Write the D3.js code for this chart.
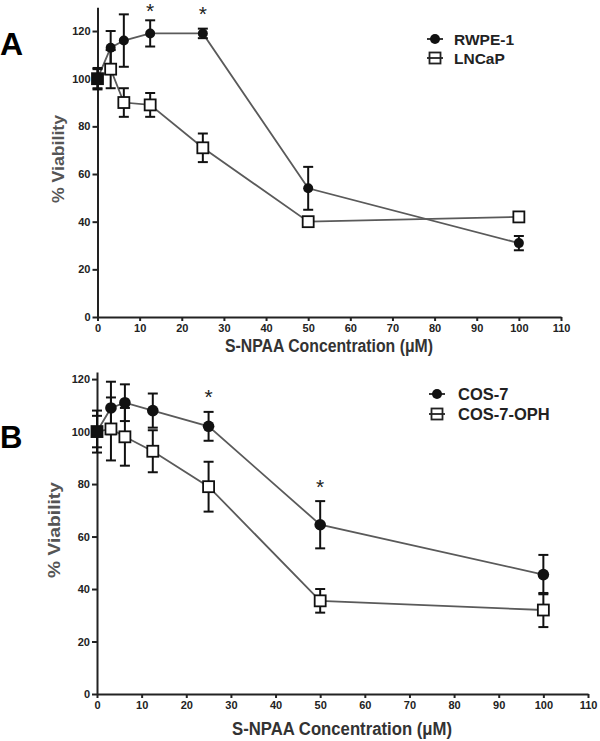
<!DOCTYPE html>
<html>
<head>
<meta charset="utf-8">
<style>
    body { margin: 0; background: #fff; }
    svg { display: block; font-family: 'Liberation Sans', Arial, sans-serif; }
    .axis .domain { stroke: #222; stroke-width: 2px; }
    .axis .tick line { stroke: #222; stroke-width: 2px; }
    .axis .tick text { font-size: 11px; font-weight: bold; fill: #222; }
</style>
</head>
<body>
<svg width="600" height="741"></svg>

<script src="https://d3js.org/d3.v7.min.js"></script>
<script>
    // concentrations (uM)
    let conc = [0, 3.125, 6.25, 12.5, 25, 50, 100];

    // panel A
    let rwpeMean = [100, 113, 116, 119, 119, 54, 31];
    let rwpeErr = [4.5, 7, 11, 5.5, 2, 9, 3];
    let lncapMean = [100, 104, 90, 89, 71, 40, 42];
    let lncapErr = [4, 8, 6, 5, 6, 1, 2];
    let starsAx = [12.5, 25];
    let starsAy = [130.5, 129.3];

    // panel B
    let cosMean = [100, 109, 111, 108, 102, 64.5, 45.5];
    let cosErr = [8, 10, 7, 6.5, 5.5, 9, 7.5];
    let ophMean = [100, 101, 98, 92.5, 79, 35.5, 32];
    let ophErr = [6, 12, 11, 8, 9.5, 4.5, 6.5];
    let starsBx = [25, 50];
    let starsBy = [115, 80.8];

    let xTicks = d3.range(0, 111, 10);
    let yTicks = [0, 20, 40, 60, 80, 100, 120];

    let svg = d3.select("svg");

    function panel(opt) {
        let g = svg.append("g");

        let x = d3.scaleLinear().domain([0, 110]).range(opt.xr);
        let y = d3.scaleLinear().domain([0, opt.ymax]).range(opt.yr);

        g.append("g")
            .attr("class", "axis")
            .attr("transform", `translate(0,${opt.yr[0]})`)
            .call(d3.axisBottom(x).tickValues(xTicks).tickSize(4).tickSizeOuter(0).tickPadding(3));

        g.append("g")
            .attr("class", "axis")
            .attr("transform", `translate(${opt.xr[0]},0)`)
            .call(d3.axisLeft(y).tickValues(yTicks).tickSize(5).tickSizeOuter(0).tickPadding(2));

        let line = d3.line()
            .x(d => x(d.c))
            .y(d => y(d.m));

        // series: [filled circle, open square]
        let series = opt.series.map(s => conc.map((c, i) => ({ c: c, m: s.mean[i], e: s.err[i] })));

        series.forEach(s => {
            g.append("path")
                .attr("d", line(s))
                .style("fill", "none")
                .style("stroke", "#5a5a5a")
                .style("stroke-width", "1.8px")
        });

        series.forEach(s => {
            let eb = g.append("g").selectAll("g").data(s).join("g");
            eb.append("line")
                .attr("x1", d => x(d.c)).attr("x2", d => x(d.c))
                .attr("y1", d => y(d.m - d.e)).attr("y2", d => y(d.m + d.e));
            eb.append("line")
                .attr("x1", d => x(d.c) - 5).attr("x2", d => x(d.c) + 5)
                .attr("y1", d => y(d.m + d.e)).attr("y2", d => y(d.m + d.e));
            eb.append("line")
                .attr("x1", d => x(d.c) - 5).attr("x2", d => x(d.c) + 5)
                .attr("y1", d => y(d.m - d.e)).attr("y2", d => y(d.m - d.e));
            eb.selectAll("line").style("stroke", "#111").style("stroke-width", "2px");
        });

        let sq = opt.sq;
        g.append("g").selectAll("rect")
            .data(series[1])
            .join("rect")
            .attr("x", d => x(d.c) - sq / 2)
            .attr("y", d => y(d.m) - sq / 2)
            .attr("width", sq)
            .attr("height", sq)
            .style("fill", (d, i) => i == 0 ? "#111" : "#fff")
            .style("stroke", "#111")
            .style("stroke-width", "1.8px");

        g.append("g").selectAll("circle")
            .data(series[0])
            .join("circle")
            .attr("cx", d => x(d.c))
            .attr("cy", d => y(d.m))
            .attr("r", opt.r)
            .style("fill", "#111");

        // significance stars
        g.append("g").selectAll("text")
            .data(opt.starX)
            .join("text")
            .attr("x", d => x(d))
            .attr("y", (d, i) => y(opt.starY[i]) + 12)
            .attr("text-anchor", "middle")
            .style("font-size", "21px")
            .style("fill", "#222")
            .text("*");

        // axis titles
        g.append("text")
            .attr("x", opt.xTitle[0])
            .attr("y", opt.xTitle[1])
            .attr("text-anchor", "middle")
            .attr("textLength", opt.xTitle[2])
            .attr("lengthAdjust", "spacingAndGlyphs")
            .style("font-size", "18px")
            .style("font-weight", "bold")
            .style("fill", "#333")
            .text("S-NPAA Concentration (\u03BCM)");

        g.append("text")
            .attr("transform", `translate(${opt.yTitle[0]},${opt.yTitle[1]}) rotate(-90)`)
            .attr("text-anchor", "middle")
            .attr("textLength", opt.yTitle[2])
            .attr("lengthAdjust", "spacingAndGlyphs")
            .style("font-size", "17px")
            .style("font-weight", "bold")
            .style("fill", "#555")
            .text("% Viability");

        // panel letter
        g.append("text")
            .attr("x", 0)
            .attr("y", opt.letter[1])
            .style("font-size", opt.letter[2] + "px")
            .style("font-weight", "bold")
            .style("fill", "#000")
            .text(opt.letter[0]);

        // legend
        let lg = g.append("g").attr("transform", `translate(${opt.legend[0]},${opt.legend[1]})`);
        opt.names.forEach((n, i) => {
            let ly = i * opt.legend[2];
            lg.append("line")
                .attr("x1", -8).attr("x2", 8).attr("y1", ly).attr("y2", ly)
                .style("stroke", "#222").style("stroke-width", "1.8px");
            if (i == 0) {
                lg.append("circle").attr("cx", 0).attr("cy", ly).attr("r", 5).style("fill", "#111");
            } else {
                lg.append("rect").attr("x", -5.5).attr("y", ly - 5.5).attr("width", 11).attr("height", 11)
                    .style("fill", "none").style("stroke", "#222").style("stroke-width", "1.8px");
            }
            lg.append("text")
                .attr("x", opt.legend[3])
                .attr("y", ly + 6)
                .style("font-size", opt.legend[4] + "px")
                .style("font-weight", "bold")
                .style("fill", "#222")
                .text(n);
        });
    }

    panel({
        xr: [97.5, 561], yr: [317, 7.2], ymax: 130,
        series: [{ mean: rwpeMean, err: rwpeErr }, { mean: lncapMean, err: lncapErr }],
        names: ["RWPE-1", "LNCaP"],
        r: 5, sq: 11,
        starX: starsAx, starY: starsAy,
        xTitle: [329, 352, 208], yTitle: [64, 159, 88],
        letter: ["A", 55, 32],
        legend: [435, 39, 19, 19, 15.5]
    });

    panel({
        xr: [97, 588], yr: [694, 372], ymax: 122.7,
        series: [{ mean: cosMean, err: cosErr }, { mean: ophMean, err: ophErr }],
        names: ["COS-7", "COS-7-OPH"],
        r: 5.8, sq: 11,
        starX: starsBx, starY: starsBy,
        xTitle: [342, 735, 220], yTitle: [60, 530, 96],
        letter: ["B", 448, 31],
        legend: [437, 394, 20, 21, 16.5]
    });
</script>
</body>
</html>
